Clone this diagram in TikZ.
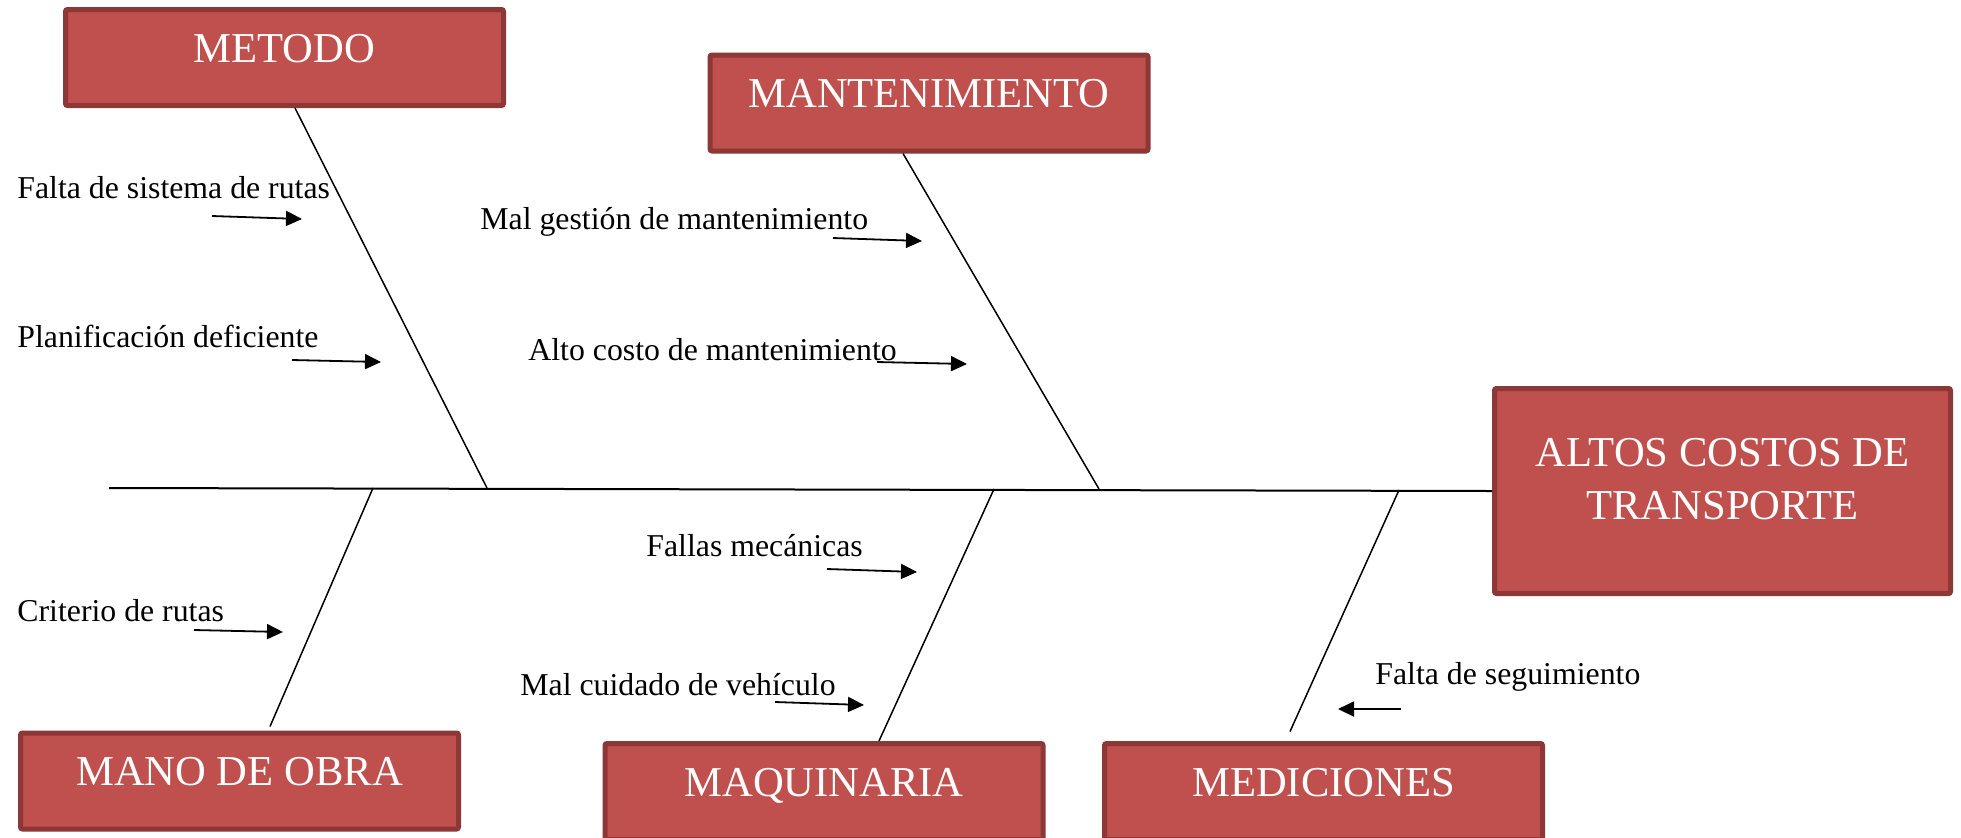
\documentclass[tikz,border=0pt]{standalone}
\usepackage{fontspec}
\setmainfont{Liberation Serif}
\usetikzlibrary{arrows.meta}
\definecolor{rojocaja}{RGB}{192,80,77}
\definecolor{bordecaja}{RGB}{140,56,54}
\tikzset{
    categoria/.style={rectangle, rounded corners=1pt, fill=rojocaja, draw=bordecaja, line width=2.5pt,
        inner sep=0pt, minimum width=219pt, text height=26.25pt, text depth=21.75pt,
        text=white, font=\fontsize{21.3}{26.5}\selectfont},
    causa/.style={anchor=base west, inner sep=0pt, font=\fontsize{15.9}{19}\selectfont},
    flecha/.style={-{Triangle[length=8pt,width=7.5pt]}, line width=0.9pt},
    espina/.style={line width=0.75pt},
}

\begin{document}
\begin{tikzpicture}[x=0.5pt,y=-0.5pt]

        \useasboundingbox (0,0) rectangle (1961,837);
        \clip (0,0) rectangle (1961,837);

        \coordinate (cola) at (109,488);
        \coordinate (pMetodo) at (487,488);
        \coordinate (pMant) at (1099,489);
        \coordinate (pMano) at (373,488);
        \coordinate (pMaq) at (994,489);
        \coordinate (pMed) at (1399,490);

        \coordinate (a1) at (212,216);  \coordinate (b1) at (302,219);
        \coordinate (a2) at (292,360);  \coordinate (b2) at (381,362);
        \coordinate (a3) at (833,238);  \coordinate (b3) at (922,241);
        \coordinate (a4) at (877,362);  \coordinate (b4) at (967,364);
        \coordinate (a5) at (827,569);  \coordinate (b5) at (917,572);
        \coordinate (a6) at (194,630);  \coordinate (b6) at (283,632);
        \coordinate (a7) at (775,702);  \coordinate (b7) at (864,705);
        \coordinate (a8) at (1401,709); \coordinate (b8) at (1338,709);

        % Cajas
        \node[categoria] (metodo) at (284.5,57.5) {METODO};
        \node[categoria] (mant) at (929,103) {MANTENIMIENTO};
        \node[categoria] (mano) at (239.5,781) {MANO DE OBRA};
        \node[categoria] (maq) at (824,791.5) {MAQUINARIA};
        \node[categoria] (med) at (1323.5,791.5) {MEDICIONES};
        \node[categoria, minimum width=228pt, minimum height=102.5pt] (efecto) at (1722.5,491) {};
        \node[text=white, font=\fontsize{21.3}{26.5}\selectfont, align=center, anchor=base, inner sep=0pt]
            (efectotxt) at (1722.5,519) {ALTOS COSTOS DE\\TRANSPORTE};

        \draw[line width=1pt] (cola) -- (efecto.west);

        \draw[espina] ([xshift=5.25pt]metodo.south) -- (pMetodo);
        \draw[espina] ([xshift=-13pt]mant.south) -- (pMant);
        \draw[espina] ([xshift=15.25pt,yshift=2pt]mano.north) -- (pMano);
        \draw[espina] ([xshift=27.5pt]maq.north) -- (pMaq);
        \draw[espina] ([xshift=-16.75pt,yshift=4.75pt]med.north) -- (pMed);

        % Causas
        \node[causa] (c1) at (17,198) {Falta de sistema de rutas};
        \node[causa] (c2) at (17,347) {Planificación deficiente};
        \node[causa] (c3) at (480,229) {Mal gestión de mantenimiento};
        \node[causa] (c4) at (528,360) {Alto costo de mantenimiento};
        \node[causa] (c5) at (646,556) {Fallas mecánicas};
        \node[causa] (c6) at (17,621) {Criterio de rutas};
        \node[causa] (c7) at (520,695) {Mal cuidado de vehículo};
        \node[causa] (c8) at (1375,684) {Falta de seguimiento};

        \foreach \i in {1,...,8}
            \draw[flecha] (a\i) -- (b\i);

    \end{tikzpicture}
\end{document}
